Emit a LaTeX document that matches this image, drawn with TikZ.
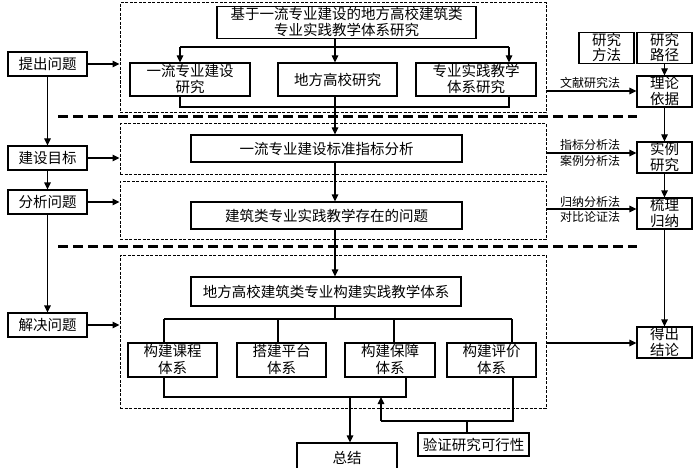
\documentclass[tikz,border=0pt]{standalone}
\usepackage{fontspec}
\newfontfamily\cjk{Noto Sans CJK SC}
\usetikzlibrary{arrows.meta}
\newcommand\twol[2]{\rule{0pt}{12.5pt}#1\\#2\rule[-2.5pt]{0pt}{2.5pt}}
\tikzset{
  bx/.style={draw, line width=1.2pt, inner sep=0pt, align=center,
    font=\cjk\fontsize{14.5}{16.5}\selectfont},
  rbx/.style={bx, font=\cjk\fontsize{14.5}{15.5}\selectfont},
  dbox/.style={draw, line width=1pt, dash pattern=on 3pt off 1.5pt, inner sep=0pt},
  ln/.style={line width=1.2pt},
  arr/.style={line width=1.2pt, -{Triangle[length=7pt,width=6.5pt]}},
  thk/.style={line width=3pt, dash pattern=on 10pt off 5pt},
  lab/.style={inner sep=0pt, font=\cjk\fontsize{12}{13}\selectfont}
}
\begin{document}
\begin{tikzpicture}[x=1pt,y=-1pt]
\useasboundingbox[fill=white] (0,0) rectangle (696,468);
% left column
\node[bx, minimum width=79pt, minimum height=24pt] (q1) at (47.5,64) {提出问题};
\node[bx, minimum width=79pt, minimum height=24pt] (q2) at (47.5,158) {建设目标};
\node[bx, minimum width=79pt, minimum height=24pt] (q3) at (47.5,202) {分析问题};
\node[bx, minimum width=79pt, minimum height=24pt] (q4) at (47.5,325) {解决问题};
% dashed regions
\node[dbox, minimum width=426pt, minimum height=110pt] (d1) at (333,58) {};
\node[dbox, minimum width=426pt, minimum height=50pt] (d2) at (333,149) {};
\node[dbox, minimum width=426pt, minimum height=58pt] (d3) at (333,210) {};
\node[dbox, minimum width=426pt, minimum height=153pt] (d4) at (333,331.5) {};
% thick separators
\coordinate (h1a) at (58,117); \coordinate (h1b) at (637,117);
\coordinate (h2a) at (58,246); \coordinate (h2b) at (637,246);
\draw[thk] (h1a) -- (h1b);
\draw[thk] (h2a) -- (h2b);
% top block
\node[bx, minimum width=259pt, minimum height=31pt] (t) at (346.5,22.5) {\twol{基于一流专业建设的地方高校建筑类}{专业实践教学体系研究}};
\node[bx, minimum width=120pt, minimum height=33pt] (s1) at (190,79.5) {\twol{一流专业建设}{研究}};
\node[bx, minimum width=119pt, minimum height=33pt] (s2) at (337.5,79.5) {地方高校研究};
\node[bx, minimum width=120pt, minimum height=33pt] (s3) at (476,79.5) {\twol{专业实践教学}{体系研究}};
% middle chain
\node[bx, minimum width=271pt, minimum height=27pt] (a1) at (326.5,148.5) {一流专业建设标准指标分析};
\node[bx, minimum width=271pt, minimum height=27pt] (a2) at (326.5,215.5) {建筑类专业实践教学存在的问题};
\node[bx, minimum width=270pt, minimum height=29pt] (a3) at (326,291.5) {地方高校建筑类专业构建实践教学体系};
\node[bx, minimum width=89pt, minimum height=34pt] (b1) at (172.5,360) {\twol{构建课程}{体系}};
\node[bx, minimum width=89pt, minimum height=34pt] (b2) at (281.5,360) {\twol{搭建平台}{体系}};
\node[bx, minimum width=90pt, minimum height=34pt] (b3) at (390,360) {\twol{构建保障}{体系}};
\node[bx, minimum width=89pt, minimum height=34pt] (b4) at (491.5,360) {\twol{构建评价}{体系}};
\node[bx, minimum width=100pt, minimum height=30pt] (sm) at (347,458) {总结};
\node[bx, minimum width=111pt, minimum height=23pt] (v) at (473.5,444.5) {验证研究可行性};
% right column
\node[rbx, minimum width=55pt, minimum height=30pt] (m1) at (606.5,48) {\twol{研究}{方法}};
\node[rbx, minimum width=55pt, minimum height=30pt] (m2) at (664.5,48) {\twol{研究}{路径}};
\node[rbx, minimum width=55pt, minimum height=31pt] (r1) at (664.5,91.5) {\twol{理论}{依据}};
\node[rbx, minimum width=55pt, minimum height=31pt] (r2) at (664.5,157.5) {\twol{实例}{研究}};
\node[rbx, minimum width=55pt, minimum height=31pt] (r3) at (664.5,213.5) {\twol{梳理}{归纳}};
\node[rbx, minimum width=55pt, minimum height=31pt] (r4) at (664.5,342.5) {\twol{得出}{结论}};
% left connectors
\draw[arr] (q1) -- (q2);
\draw[arr] (q2) -- (q3);
\draw[arr] (q3) -- (q4);
\draw[arr] (q1.east) -- (q1.east -| d1.west);
\draw[arr] (q2.east) -- (q2.east -| d2.west);
\draw[arr] (q3.east) -- (q3.east -| d3.west);
\draw[arr] (q4.east) -- (q4.east -| d4.west);
% top block connectors
\coordinate (j1) at (335,47);
\coordinate (jl) at (180,47);
\coordinate (jr) at (509,47);
\draw[ln] (jl) -- (jr);
\draw[ln] (t.south -| j1) -- (j1);
\draw[arr] (jl) -- (jl |- s1.north);
\draw[arr] (j1) -- (j1 |- s2.north);
\draw[arr] (jr) -- (jr |- s3.north);
\coordinate (kl) at (180,107);
\coordinate (kr) at (509,107);
\draw[ln] (kl |- s1.south) -- (kl) -- (kr) -- (kr |- s3.south);
\draw[arr] (j1 |- s2.south) -- (j1 |- a1.north);
\draw[arr] (j1 |- a1.south) -- (j1 |- a2.north);
\draw[arr] (j1 |- a2.south) -- (j1 |- a3.north);
% distribution to b boxes
\coordinate (j2) at (335,319);
\coordinate (ml) at (164,319);
\coordinate (mr) at (512,319);
\coordinate (m2x) at (278,319);
\coordinate (m3x) at (394,319);
\draw[ln] (j1 |- a3.south) -- (j2);
\draw[ln] (ml) -- (mr);
\draw[ln] (ml) -- (ml |- b1.north);
\draw[ln] (m2x) -- (m2x |- b2.north);
\draw[ln] (m3x) -- (m3x |- b3.north);
\draw[ln] (mr) -- (mr |- b4.north);
% bottom collection
\coordinate (n1) at (164,397);
\coordinate (n2) at (406,397);
\coordinate (n3) at (350,397);
\draw[ln] (n1 |- b1.south) -- (n1) -- (n2) -- (n2 |- b3.south);
\draw[arr] (n3) -- (n3 |- sm.north);
\coordinate (p1) at (467,421);
\coordinate (pl) at (381,421);
\coordinate (pr) at (513,421);
\draw[ln] (p1 |- v.north) -- (p1);
\draw[ln] (pr |- b4.south) -- (pr) -- (pl);
\draw[arr] (pl) -- (pl |- n1);
% right connectors
\draw[arr] (m2) -- (r1);
\draw[arr] (r1) -- (r2);
\draw[arr] (r2) -- (r3);
\draw[arr] (r3) -- (r4);
\coordinate (e1) at (546,91);
\coordinate (e2) at (546,153);
\coordinate (e3) at (546,209);
\coordinate (e4) at (546,343);
\draw[arr] (e1) -- (e1 -| r1.west);
\draw[arr] (e2) -- (e2 -| r2.west);
\draw[arr] (e3) -- (e3 -| r3.west);
\draw[arr] (e4) -- (e4 -| r4.west);
\node[lab] (l1) at (590,83) {文献研究法};
\node[lab] (l2) at (590,145) {指标分析法};
\node[lab] (l3) at (590,161) {案例分析法};
\node[lab] (l4) at (590,202) {归纳分析法};
\node[lab] (l5) at (590,217) {对比论证法};
\end{tikzpicture}
\end{document}
